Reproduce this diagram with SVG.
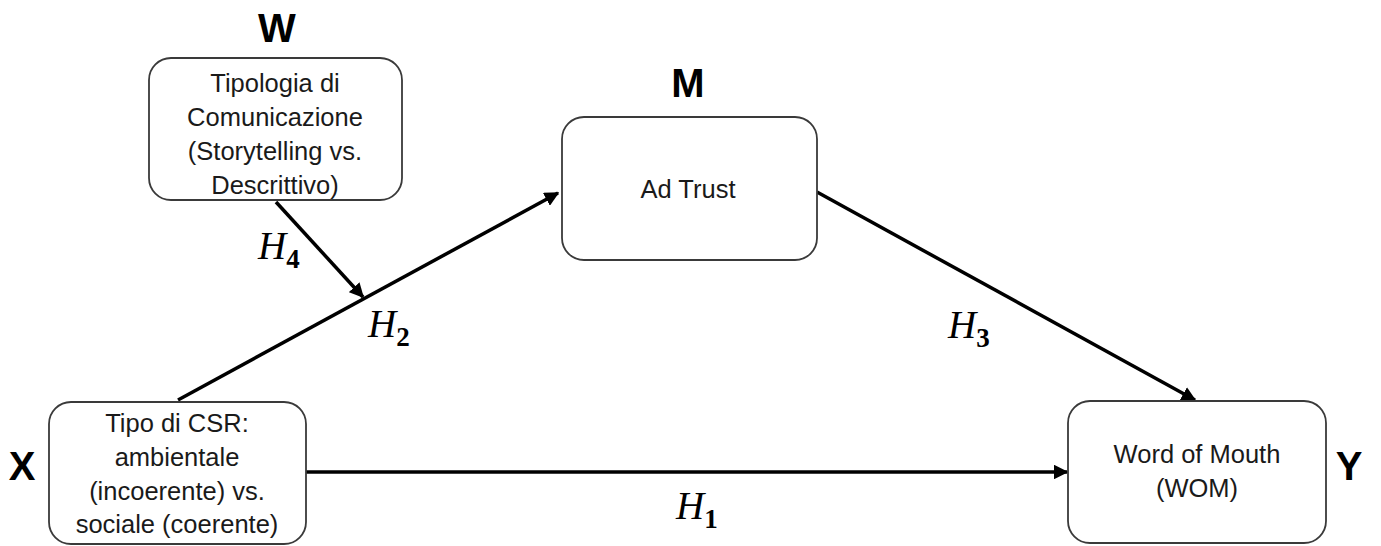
<svg xmlns="http://www.w3.org/2000/svg" width="1381" height="546" viewBox="0 0 1381 546">
  <style>
    .box { fill: #ffffff; stroke: #3a3a3a; stroke-width: 1.8; }
    .txt { font-family: "Liberation Sans", Arial, sans-serif; font-size: 25.5px; fill: #1a1a1a; text-anchor: middle; }
    .var { font-family: "Liberation Sans", Arial, sans-serif; font-size: 40px; font-weight: bold; fill: #000; text-anchor: middle; }
    .hyp { font-family: "Liberation Serif", "Times New Roman", serif; font-style: italic; font-size: 39px; fill: #000; }
    .sub { font-style: normal; font-weight: bold; font-size: 27px; }
    .edge { stroke: #000; stroke-width: 3.5; fill: none; marker-end: url(#arrow); }
  </style>
  <defs>
    <marker id="arrow" viewBox="0 0 10 10" refX="9" refY="5" markerWidth="4.2" markerHeight="4.2" orient="auto" markerUnits="strokeWidth">
      <path d="M0,0 L10,5 L0,10 Z" fill="#000"/>
    </marker>
  </defs>

  <rect width="1381" height="546" fill="#ffffff"/>

  <!-- connectors -->
  <g id="connectors">
    <line class="edge" x1="178" y1="400" x2="558" y2="193"/>
    <line class="edge" x1="276" y1="202" x2="363" y2="297"/>
    <line class="edge" x1="817" y1="192" x2="1195" y2="400"/>
    <line class="edge" x1="306" y1="472" x2="1067" y2="472"/>
  </g>

  <!-- hypothesis labels -->
  <g id="labels">
    <text class="hyp" x="258" y="259">H<tspan class="sub" dy="9">4</tspan></text>
    <text class="hyp" x="368" y="337">H<tspan class="sub" dy="9">2</tspan></text>
    <text class="hyp" x="948" y="338">H<tspan class="sub" dy="9">3</tspan></text>
    <text class="hyp" x="676" y="519">H<tspan class="sub" dy="9">1</tspan></text>
  </g>

  <!-- moderator W -->
  <g id="node-w">
    <text class="var" x="277" y="42">W</text>
    <rect class="box" x="149" y="58" width="253" height="142" rx="22"/>
    <text class="txt" x="275" y="92">Tipologia di</text>
    <text class="txt" x="275" y="126">Comunicazione</text>
    <text class="txt" x="275" y="160">(Storytelling vs.</text>
    <text class="txt" x="275" y="194">Descrittivo)</text>
  </g>

  <!-- mediator M -->
  <g id="node-m">
    <text class="var" x="688" y="97">M</text>
    <rect class="box" x="562" y="117" width="255" height="143" rx="22"/>
    <text class="txt" x="688" y="198">Ad Trust</text>
  </g>

  <!-- independent variable X -->
  <g id="node-x">
    <text class="var" x="22" y="480">X</text>
    <rect class="box" x="49" y="402" width="257" height="142" rx="22"/>
    <text class="txt" x="177" y="432">Tipo di CSR:</text>
    <text class="txt" x="177" y="466">ambientale</text>
    <text class="txt" x="177" y="500">(incoerente) vs.</text>
    <text class="txt" x="177" y="533">sociale (coerente)</text>
  </g>

  <!-- dependent variable Y -->
  <g id="node-y">
    <rect class="box" x="1068" y="401" width="258" height="142" rx="22"/>
    <text class="txt" x="1197" y="463">Word of Mouth</text>
    <text class="txt" x="1197" y="497">(WOM)</text>
    <text class="var" x="1349" y="480">Y</text>
  </g>
</svg>
